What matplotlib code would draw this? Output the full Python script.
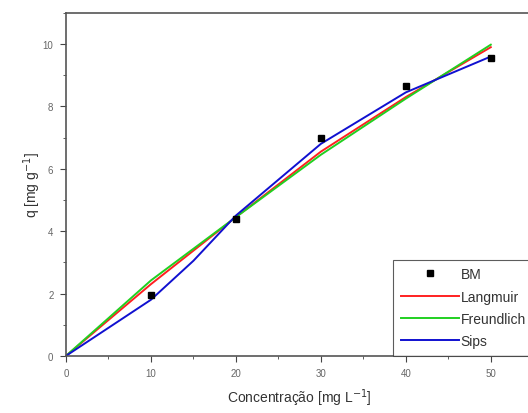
import matplotlib
matplotlib.use("Agg")
import matplotlib.pyplot as plt
from matplotlib.ticker import MultipleLocator

plt.rcParams['font.family'] = ['Liberation Sans', 'DejaVu Sans']

# dados experimentais
conc = [10, 20, 30, 40, 50]
q_bm = [1.95, 4.4, 7.0, 8.65, 9.55]

# ajustes dos modelos
x_fit = [0, 10, 20, 30, 40, 50]
q_langmuir = [0, 2.3, 4.45, 6.55, 8.3, 9.9]
q_freundlich = [0, 2.42, 4.45, 6.45, 8.25, 9.98]
x_sips = [0, 10, 15, 20, 30, 40, 50]
q_sips = [0, 1.8, 3.05, 4.5, 6.8, 8.45, 9.6]

fig = plt.figure(figsize=(5.28, 4.14), dpi=100)
ax = fig.add_axes([0.125, 0.138, 0.885, 0.8285])

ax.plot(conc, q_bm, 's', color='black', markersize=5, label='BM', zorder=5)
ax.plot(x_fit, q_langmuir, color='#ff2020', lw=1.4, label='Langmuir')
ax.plot(x_fit, q_freundlich, color='#20d020', lw=1.4, label='Freundlich')
ax.plot(x_sips, q_sips, color='#1010d0', lw=1.4, label='Sips')

ax.set_xlim(0, 55)
ax.set_ylim(0, 11)
ax.xaxis.set_major_locator(MultipleLocator(10))
ax.xaxis.set_minor_locator(MultipleLocator(5))
ax.yaxis.set_major_locator(MultipleLocator(2))
ax.yaxis.set_minor_locator(MultipleLocator(1))
ax.tick_params(which='major', length=4, pad=5, labelsize=7, colors='#444444', labelcolor='#666666')
ax.tick_params(which='minor', length=2.5, colors='#444444')
for s in ax.spines.values():
    s.set_color('#555555')
    s.set_linewidth(1.2)

ax.set_xlabel('Concentração [mg L$^{-1}$]', fontsize=10, color='#333333', labelpad=6)
ax.set_ylabel('q [mg g$^{-1}$]', fontsize=10, color='#333333', labelpad=0)

leg = ax.legend(loc='lower right', borderaxespad=0, fontsize=10, frameon=True,
                fancybox=False, handlelength=4.2, handletextpad=0.1,
                labelspacing=0.6, borderpad=0.55)
leg.get_frame().set_edgecolor('#333333')
leg.get_frame().set_linewidth(0.8)
for t in leg.get_texts():
    t.set_color('#333333')

fig.savefig('out.png', dpi=100)
